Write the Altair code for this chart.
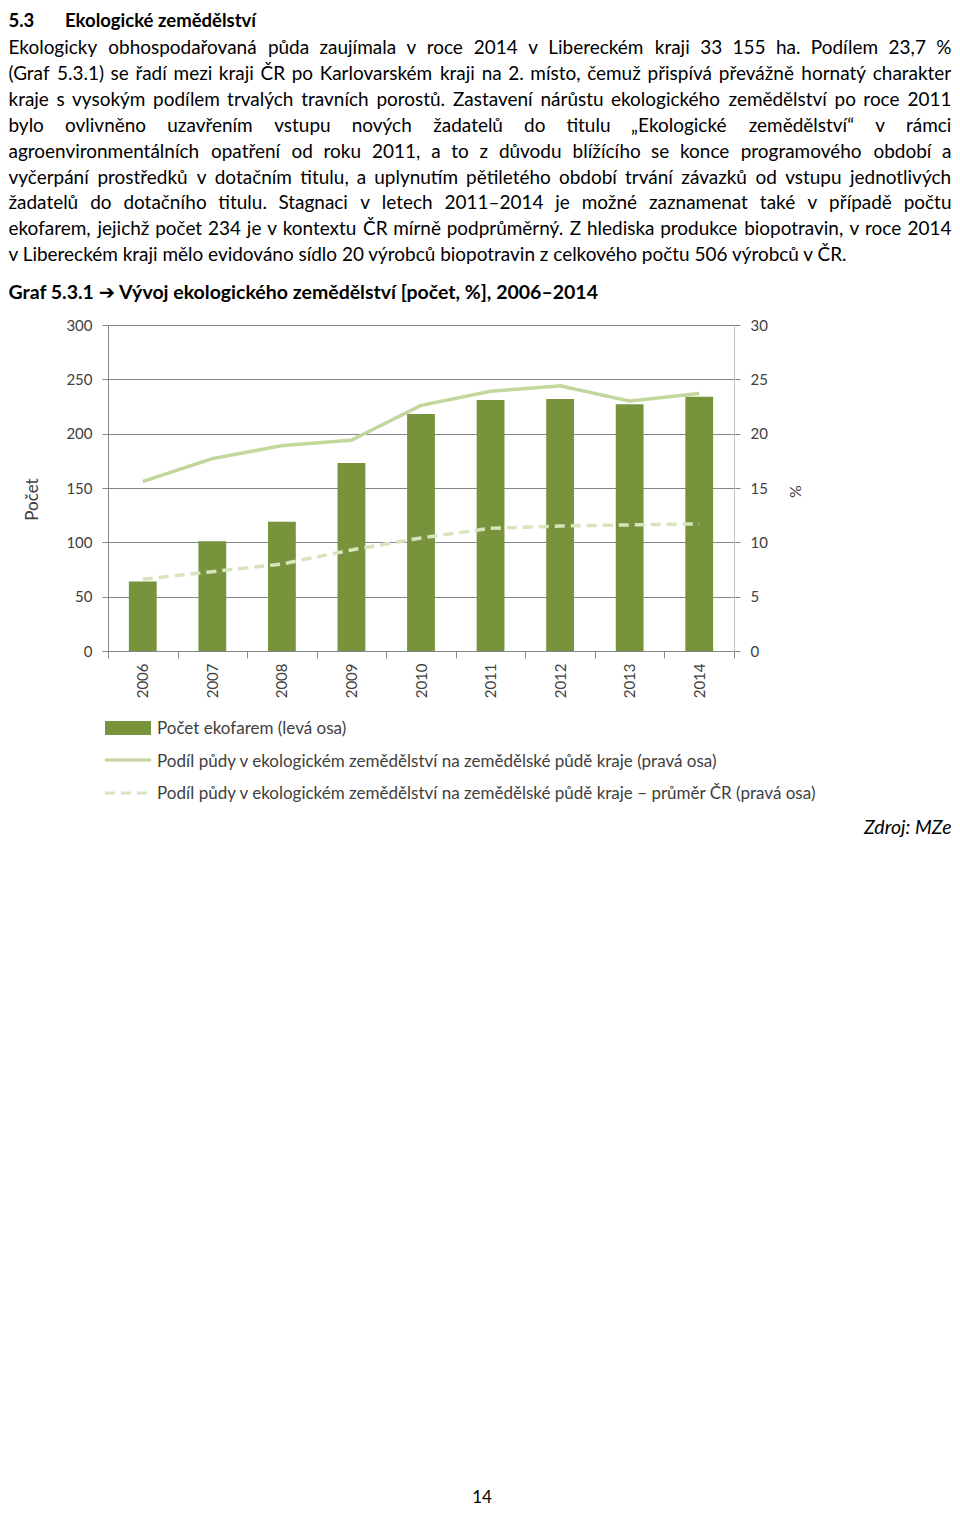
import glob
import struct
import altair as alt
import pandas as pd

# ---------------- data ----------------
years = ["2006", "2007", "2008", "2009", "2010", "2011", "2012", "2013", "2014"]
farms = [64, 101, 119, 173, 218, 231, 232, 227, 234]
share_region = [15.6, 17.7, 18.9, 19.4, 22.6, 23.9, 24.4, 23.0, 23.7]
share_cr = [6.6, 7.3, 8.0, 9.3, 10.4, 11.3, 11.5, 11.6, 11.7]

series_names = [
    "Podíl půdy v ekologickém zemědělství na zemědělské půdě kraje (pravá osa)",
    "Podíl půdy v ekologickém zemědělství na zemědělské půdě kraje – průměr ČR (pravá osa)",
]
bar_name = "Počet ekofarem (levá osa)"

heading_num = "5.3"
heading_text = "Ekologické zemědělství"
para_lines = [
    "Ekologicky obhospodařovaná půda zaujímala v roce 2014 v Libereckém kraji 33 155 ha. Podílem 23,7 %",
    "(Graf 5.3.1) se řadí mezi kraji ČR po Karlovarském kraji na 2. místo, čemuž přispívá převážně hornatý charakter",
    "kraje s vysokým podílem trvalých travních porostů. Zastavení nárůstu ekologického zemědělství po roce 2011",
    "bylo ovlivněno uzavřením vstupu nových žadatelů do titulu „Ekologické zemědělství“ v rámci",
    "agroenvironmentálních opatření od roku 2011, a to z důvodu blížícího se konce programového období a",
    "vyčerpání prostředků v dotačním titulu, a uplynutím pětiletého období trvání závazků od vstupu jednotlivých",
    "žadatelů do dotačního titulu. Stagnaci v letech 2011–2014 je možné zaznamenat také v případě počtu",
    "ekofarem, jejichž počet 234 je v kontextu ČR mírně podprůměrný. Z hlediska produkce biopotravin, v roce 2014",
    "v Libereckém kraji mělo evidováno sídlo 20 výrobců biopotravin z celkového počtu 506 výrobců v ČR.",
]
graf_title = "Graf 5.3.1 ➔ Vývoj ekologického zemědělství [počet, %], 2006–2014"
source_text = "Zdroj: MZe"
page_number = "14"

# ---------------- styles / layout ----------------
FONT = "Lato, 'DejaVu Sans', sans-serif"
BAR_COLOR = "#77933c"
LINE_COLORS = ["#c3d69b", "#d7e4bd"]
GRID = "#868686"
TXT = "#404040"

PW, PH = 626, 326          # plot area
OX, OY = 108, 325          # page position of the plot origin
TEXT_LEFT, TEXT_RIGHT = 8.5, 951.5


# --------- text width measurement from the installed Lato font (for justification) ---------
def _load_metrics():
    paths = []
    for pat in ["/usr/share/fonts/**/Lato-Regular.*", "/usr/local/share/fonts/**/Lato-Regular.*",
                "/root/.fonts/**/Lato-Regular.*", "/usr/share/fonts/**/Lato*Regular*.*"]:
        paths += glob.glob(pat, recursive=True)
    for p in paths:
        try:
            data = open(p, "rb").read()
            u16 = lambda o: struct.unpack(">H", data[o:o + 2])[0]
            u32 = lambda o: struct.unpack(">I", data[o:o + 4])[0]
            ntab = u16(4)
            tables = {}
            for i in range(ntab):
                rec = 12 + 16 * i
                tables[data[rec:rec + 4].decode("latin1")] = u32(rec + 8)
            upem = u16(tables["head"] + 18)
            nhm = u16(tables["hhea"] + 34)
            hm = tables["hmtx"]
            adv = [u16(hm + 4 * i) for i in range(nhm)]
            cm = tables["cmap"]
            nsub = u16(cm + 2)
            cmap = {}
            for i in range(nsub):
                sub = cm + u32(cm + 8 + 8 * i)
                fmt = u16(sub)
                if fmt == 4:
                    segx2 = u16(sub + 6)
                    ends = sub + 14
                    starts = ends + segx2 + 2
                    deltas = starts + segx2
                    ranges = deltas + segx2
                    for s in range(segx2 // 2):
                        e, st = u16(ends + 2 * s), u16(starts + 2 * s)
                        d, ro = u16(deltas + 2 * s), u16(ranges + 2 * s)
                        for c in range(st, e + 1):
                            if c == 0xFFFF:
                                continue
                            if ro == 0:
                                g = (c + d) & 0xFFFF
                            else:
                                g = u16(ranges + 2 * s + ro + 2 * (c - st))
                                if g:
                                    g = (g + d) & 0xFFFF
                            cmap.setdefault(c, g)
                elif fmt == 12:
                    ng = u32(sub + 12)
                    for j in range(ng):
                        a, b, g0 = u32(sub + 16 + 12 * j), u32(sub + 20 + 12 * j), u32(sub + 24 + 12 * j)
                        for c in range(a, b + 1):
                            cmap.setdefault(c, g0 + c - a)
            if cmap:
                return cmap, adv, upem
        except Exception:
            continue
    return None


_M = _load_metrics()


def text_width(s, size):
    if _M is None:
        return sum((0.26 if ch == " " else 0.52) for ch in s) * size
    cmap, adv, upem = _M
    w = 0
    for ch in s:
        g = cmap.get(ord(ch), 0)
        w += adv[min(g, len(adv) - 1)]
    return w * size / upem


avail = TEXT_RIGHT - TEXT_LEFT
natural = [text_width(l, 1.0) for l in para_lines]
PARA_FS = min(20.0, 0.985 * avail / max(natural))
LINE_H = 25.9
BASE0 = 54

words_rows = []
for i, line in enumerate(para_lines):
    base_y = BASE0 + i * LINE_H - OY
    words = line.split(" ")
    if i == len(para_lines) - 1:
        words_rows.append({"w": line, "px": TEXT_LEFT - OX, "py": base_y})
        continue
    ws = [text_width(w, PARA_FS) for w in words]
    gap = (avail - sum(ws)) / (len(words) - 1)
    xcur = TEXT_LEFT
    for w, wd in zip(words, ws):
        words_rows.append({"w": w, "px": xcur - OX, "py": base_y})
        xcur += wd + gap
para_df = pd.DataFrame(words_rows)

# ---------------- chart ----------------
bars_df = pd.DataFrame({"year": years, "count": farms})
lines_df = pd.DataFrame({
    "year": years * 2,
    "pct": share_region + share_cr,
    "series": [series_names[0]] * len(years) + [series_names[1]] * len(years),
})

x_enc = alt.X(
    "year:O",
    scale=alt.Scale(paddingInner=0, paddingOuter=0),
    axis=alt.Axis(
        title=None, labelAngle=-90, tickBand="extent", tickSize=7,
        tickColor=GRID, domainColor=GRID, labelFontSize=15, labelColor=TXT,
        labelPadding=5, grid=False, labelFont=FONT,
    ),
)

bars = alt.Chart(bars_df).mark_bar(
    color=BAR_COLOR, width=alt.RelativeBandSize(0.4)
).encode(
    x=x_enc,
    y=alt.Y(
        "count:Q",
        scale=alt.Scale(domain=[0, 300], nice=False),
        axis=alt.Axis(
            values=[0, 50, 100, 150, 200, 250, 300], title="Počet",
            grid=True, gridColor=GRID, gridWidth=1, tickSize=6,
            tickColor=GRID, domainColor=GRID, labelFontSize=15,
            labelColor=TXT, labelPadding=10, labelFont=FONT,
            titleFont=FONT, titleFontSize=17, titleFontWeight="normal",
            titleColor=TXT, titleAngle=270, titleX=-76, titleY=174,
            titleAlign="center", titleBaseline="middle",
        ),
    ),
)

lines = alt.Chart(lines_df).mark_line(strokeWidth=3.5).encode(
    x=alt.X("year:O"),
    y=alt.Y(
        "pct:Q",
        scale=alt.Scale(domain=[0, 30], nice=False),
        axis=alt.Axis(
            orient="right", values=[0, 5, 10, 15, 20, 25, 30], title="%",
            grid=False, tickSize=6, tickColor=GRID, domainColor="#bfbfbf",
            labelFontSize=15, labelColor=TXT, labelPadding=10, labelFont=FONT,
            titleFont=FONT, titleFontSize=16, titleFontWeight="normal",
            titleColor=TXT, titleAngle=270, titleX=61, titleY=166,
            titleAlign="center", titleBaseline="middle",
        ),
    ),
    color=alt.Color("series:N", scale=alt.Scale(domain=series_names, range=LINE_COLORS), legend=None),
    strokeDash=alt.StrokeDash("series:N", scale=alt.Scale(domain=series_names, range=[[1, 0], [10, 6]]), legend=None),
)

one = pd.DataFrame({"a": [0]})

HEAD_BASE = 26.5
head1 = alt.Chart(one).mark_text(
    text=heading_num, align="left", baseline="alphabetic", font=FONT,
    fontSize=18.5, fontWeight="bold", color="black",
).encode(x=alt.value(TEXT_LEFT - OX), y=alt.value(HEAD_BASE - OY))
head2 = alt.Chart(one).mark_text(
    text=heading_text, align="left", baseline="alphabetic", font=FONT,
    fontSize=18.5, fontWeight="bold", color="black",
).encode(x=alt.value(65 - OX), y=alt.value(HEAD_BASE - OY))

para = alt.Chart(para_df).mark_text(
    align="left", baseline="alphabetic", font=FONT, fontSize=PARA_FS, color="black"
).encode(
    x=alt.X("px:Q", scale=None, axis=None),
    y=alt.Y("py:Q", scale=None, axis=None),
    text="w:N",
)

gtitle = alt.Chart(one).mark_text(
    text=graf_title, align="left", baseline="alphabetic", font=FONT,
    fontSize=19.5, fontWeight="bold", color="black",
).encode(x=alt.value(TEXT_LEFT - OX), y=alt.value(299 - OY))

# legend
leg_rect = alt.Chart(one).mark_rect(color=BAR_COLOR).encode(
    x=alt.value(105 - OX), x2=alt.value(151 - OX), y=alt.value(721 - OY), y2=alt.value(735 - OY)
)
leg_l1 = alt.Chart(one).mark_rule(color=LINE_COLORS[0], strokeWidth=3).encode(
    x=alt.value(105 - OX), x2=alt.value(151 - OX), y=alt.value(760 - OY)
)
leg_l2 = alt.Chart(one).mark_rule(color=LINE_COLORS[1], strokeWidth=3, strokeDash=[10, 6]).encode(
    x=alt.value(105 - OX), x2=alt.value(151 - OX), y=alt.value(793 - OY)
)
leg_df = pd.DataFrame({"t": [bar_name] + series_names, "i": [0, 1, 2]})
leg_text = alt.Chart(leg_df).transform_calculate(
    py=f"datum.i * 32.5 + {729 - OY}"
).mark_text(
    align="left", baseline="middle", font=FONT, fontSize=17, color=TXT
).encode(x=alt.value(157 - OX), y=alt.Y("py:Q", scale=None, axis=None), text="t:N")

src = alt.Chart(one).mark_text(
    text=source_text, align="right", baseline="middle", font=FONT,
    fontSize=19.5, fontStyle="italic", color="black",
).encode(x=alt.value(TEXT_RIGHT - OX), y=alt.value(828 - OY))

pnum = alt.Chart(one).mark_text(
    text=page_number, align="center", baseline="alphabetic", font=FONT,
    fontSize=17, color="black",
).encode(x=alt.value(482 - OX), y=alt.value(1502.5 - OY))

chart = alt.layer(
    bars, lines, head1, head2, para, gtitle, leg_rect, leg_l1, leg_l2, leg_text, src, pnum
).resolve_scale(y="independent").properties(
    width=PW, height=PH,
    autosize=alt.AutoSizeParams(type="none"),
    padding={"left": OX - 8, "top": OY - 8, "right": 944 - (OX - 8) - PW, "bottom": 1499 - (OY - 8) - PH},
).configure_view(stroke=None)

chart.save("out.html", embed_options={"renderer": "svg", "actions": False})
